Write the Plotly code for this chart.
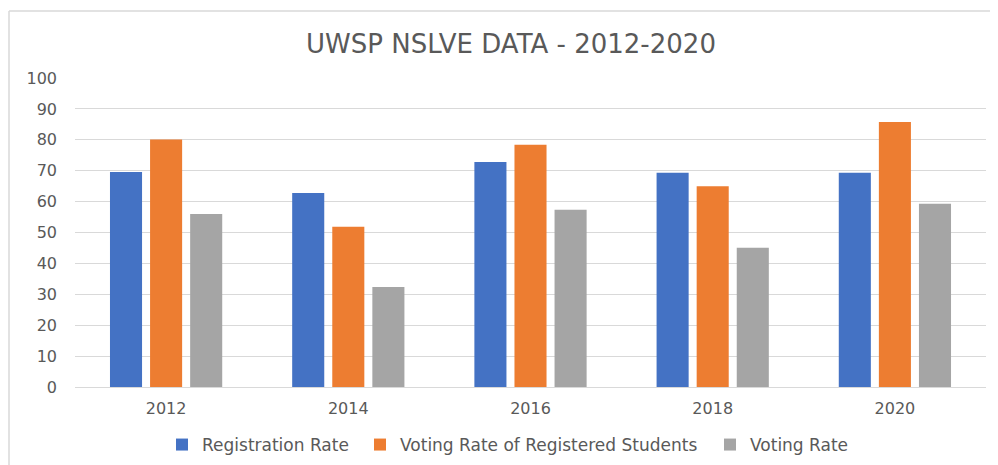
import plotly.graph_objects as go

years = ["2012", "2014", "2016", "2018", "2020"]
registration_rate = [69.6, 62.8, 72.8, 69.3, 69.3]
voting_rate_registered = [80.1, 51.9, 78.4, 65.0, 85.8]
voting_rate = [56.0, 32.4, 57.4, 45.1, 59.3]

series = [
    ("Registration Rate", registration_rate, "#4472C4", "legend"),
    ("Voting Rate of Registered Students", voting_rate_registered, "#ED7D31", "legend2"),
    ("Voting Rate", voting_rate, "#A5A5A5", "legend3"),
]

fig = go.Figure()
for name, vals, color, lg in series:
    fig.add_trace(go.Bar(x=years, y=vals, name=name, legend=lg, showlegend=True,
                         marker=dict(color=color, line=dict(width=0))))

font_family = "DejaVu Sans, sans-serif"
# page body has an 8px margin: figure is 990x457, screen coords = figure coords + 8
OFF = 8
W, H = 990, 457
L, R, T, B = 67, 12, 70, 78
pw, ph = W - L - R, H - T - B

def px_x(sx):
    return (sx - OFF - L) / pw

def px_y(sy):
    return (H - B - (sy - OFF)) / ph

legend_common = dict(orientation="h", xanchor="left", yanchor="middle", y=px_y(445), visible=True,
                     font=dict(size=17, color="#595959"), itemwidth=30, bgcolor="rgba(0,0,0,0)")

fig.update_layout(
    width=W, height=H, showlegend=True,
    paper_bgcolor="white", plot_bgcolor="white",
    margin=dict(l=L, r=R, t=T, b=B, autoexpand=False),
    barmode="group", bargap=0.34, bargroupgap=0.2,
    title=dict(text="UWSP NSLVE DATA - 2012-2020", x=(511 - OFF) / W, xanchor="center", xref="container",
               y=1 - (44 - OFF) / H, yanchor="middle", yref="container",
               font=dict(family=font_family, size=26, color="#595959")),
    font=dict(family=font_family, size=16, color="#595959"),
    legend=dict(x=px_x(162), **legend_common),
    legend2=dict(x=px_x(360), **legend_common),
    legend3=dict(x=px_x(710), **legend_common),
    xaxis=dict(showgrid=False, showline=True, linecolor="#D9D9D9", linewidth=1, ticks="",
               ticklabelstandoff=7, automargin=False, tickfont=dict(size=16, color="#595959")),
    yaxis=dict(range=[0, 100], dtick=10, showgrid=True, gridcolor="#D9D9D9", gridwidth=1,
               zeroline=False, showline=False, ticks="", ticklabelstandoff=17, automargin=False,
               tickfont=dict(size=16, color="#595959")),
    shapes=[
        dict(type="line", xref="paper", yref="paper", x0=px_x(9), x1=px_x(998), y0=px_y(11), y1=px_y(11),
             line=dict(color="#D9D9D9", width=1.5)),
        dict(type="line", xref="paper", yref="paper", x0=px_x(9), x1=px_x(9), y0=px_y(11), y1=px_y(465),
             line=dict(color="#D9D9D9", width=1.5)),
    ],
)

fig.write_html("out.html")
